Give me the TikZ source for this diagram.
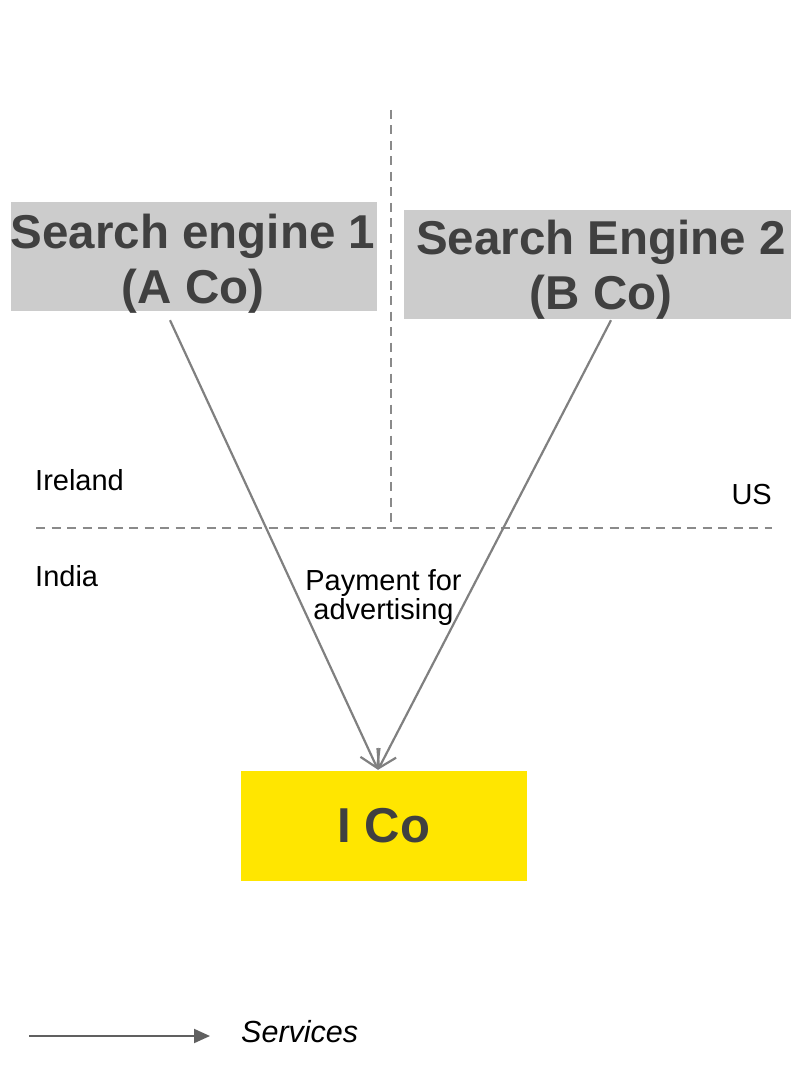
\documentclass[tikz,border=0pt]{standalone}
\usepackage{fontspec}
\setmainfont{Liberation Sans}
\usetikzlibrary{arrows.meta,calc}
\definecolor{boxgray}{HTML}{CCCCCC}
\definecolor{eyyellow}{HTML}{FFE600}
\definecolor{txtgray}{HTML}{404040}
\definecolor{linegray}{HTML}{808080}
\definecolor{divgray}{HTML}{8A8A8A}
\definecolor{leggray}{HTML}{606060}
\tikzset{
  entity/.style={fill=#1, draw=none, inner sep=0pt},
  entitytext/.style={inner sep=0pt, align=center, text=txtgray, anchor=base,
    font=\fontsize{47.5}{55}\selectfont\bfseries},
  divider/.style={draw=divgray, line width=2.5pt, dash pattern=on 9pt off 6.5pt},
  flow/.style={draw=linegray, line width=2.2pt, -{Straight Barb[length=17pt,width=21pt,line width=2.2pt]}},
  region/.style={inner sep=0pt, font=\fontsize{29}{29}\selectfont, text=black},
}
\begin{document}
\begin{tikzpicture}[x=1pt,y=-1pt]
\useasboundingbox (0,0) rectangle (791,1083);
% boxes
\node[entity=boxgray, minimum width=366pt, minimum height=109pt] (se1) at (194,256.5) {};
\node[entitytext] (se1t) at (193,303) {Search engine 1\\(A Co)};
\node[entity=boxgray, minimum width=387pt, minimum height=109pt] (se2) at (597.5,264.5) {};
\node[entitytext] (se2t) at (601,309.5) {Search Engine 2\\(B Co)};
\node[entity=eyyellow, minimum width=286pt, minimum height=110pt, text=txtgray, font=\fontsize{49}{49}\selectfont\bfseries] (ico) at (384,826) {I Co};
% dividers
\coordinate (vtop) at (391,110);
\coordinate (vbot) at (391,528);
\coordinate (hl) at (36,528);
\coordinate (hr) at (772,528);
\draw[divider] (vtop) -- (vbot);
\draw[divider] (hl) -- (hr);
% region labels
\node[region, anchor=base west] (ireland) at (35,490) {Ireland};
\node[region, anchor=base west] (india) at (35,586) {India};
\node[region, anchor=base east] (us) at (772,504) {US};
% flows
\draw[flow] ([xshift=-24pt,yshift=-9pt]se1.south) -- ([xshift=-6pt,yshift=1pt]ico.north);
\draw[flow] ([xshift=13.5pt,yshift=-1pt]se2.south) -- ([xshift=-6pt,yshift=1pt]ico.north);
\node[region, align=center, anchor=base, font=\fontsize{29}{27}\selectfont] (pay) at (383.5,619) {Payment for\\advertising};
% legend
\coordinate (lg1) at (29,1036);
\coordinate (lg2) at (210,1036);
\draw[draw=leggray, line width=2pt, -{Triangle[length=16pt,width=14pt]}] (lg1) -- (lg2);
\node[region, anchor=base west, font=\fontsize{30.5}{30.5}\selectfont\itshape] (serv) at (241,1042) {Services};
\end{tikzpicture}
\end{document}
